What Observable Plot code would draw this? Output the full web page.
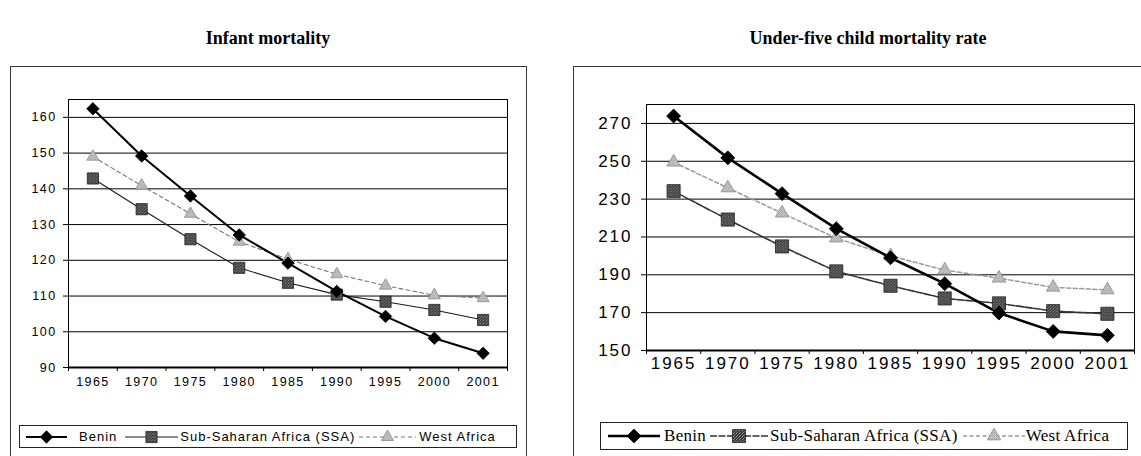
<!DOCTYPE html>
<html>
<head>
<meta charset="utf-8">
<script src="https://cdn.jsdelivr.net/npm/d3@7"></script>
<script src="https://cdn.jsdelivr.net/npm/@observablehq/plot@0.6"></script>
<style>
  body { margin: 0; background: #fff; }
  #page { position: relative; width: 1141px; height: 456px; overflow: hidden; background: #fff; }
  .chart { position: absolute; top: 0; }
  .panel { position: absolute; border: 1px solid #3a3a3a; pointer-events: none; }
  .title { position: absolute; top: 27px; line-height: 22px; transform: translateX(-50%); white-space: nowrap;
           font-family: "Liberation Serif", "Times New Roman", serif; font-weight: bold; font-size: 18px; color: #000; }
  .legend { position: absolute; box-sizing: border-box; border: 1px solid #222; display: flex; align-items: center; white-space: nowrap; color: #000; }
  .legend svg { display: block; flex: none; }
</style>
</head>
<body>
<div id="page"></div>
<svg width="0" height="0" style="position:absolute">
  <defs>
    <!-- speckled dark grey fill of the SSA squares -->
    <pattern id="ssaFill" width="3" height="3" patternUnits="userSpaceOnUse">
      <rect width="3" height="3" fill="#3a3a3a"/>
      <rect x="0" y="0" width="1" height="1" fill="#9a9a9a"/>
      <rect x="2" y="1" width="1" height="1" fill="#707070"/>
      <rect x="1" y="2" width="1" height="1" fill="#808080"/>
    </pattern>
    <!-- light grey stippled fill of the West Africa triangles -->
    <pattern id="waFill" width="2" height="2" patternUnits="userSpaceOnUse">
      <rect width="2" height="2" fill="#cfcfcf"/>
      <rect x="0" y="0" width="1" height="1" fill="#9c9c9c"/>
      <rect x="1" y="1" width="1" height="1" fill="#b0b0b0"/>
    </pattern>
  </defs>
</svg>
<script>
// Years on the category axis
const years = ["1965", "1970", "1975", "1980", "1985", "1990", "1995", "2000", "2001"];
const seriesNames = ["Benin", "Sub-Saharan Africa (SSA)", "West Africa"];

// Infant mortality (per 1,000 live births)
const infantBenin = [162.4, 149.2, 138, 127.1, 119.2, 111.3, 104.3, 98.2, 94];
const infantSSA   = [142.9, 134.3, 125.9, 117.9, 113.7, 110.4, 108.4, 106.1, 103.3];
const infantWest  = [149, 140.9, 133, 125.2, 120.3, 116.1, 112.9, 110.2, 109.4];
const infantTicks = [90, 100, 110, 120, 130, 140, 150, 160];

// Under-five child mortality rate (per 1,000)
const under5Benin = [273.9, 251.8, 232.9, 214.4, 199, 185.3, 169.8, 160.1, 158];
const under5SSA   = [234.2, 219.2, 205, 191.8, 184.2, 177.5, 174.9, 170.8, 169.4];
const under5West  = [249.5, 235.9, 222.6, 209.4, 200, 192.5, 188.2, 183.4, 182];
const under5Ticks = [150, 170, 190, 210, 230, 250, 270];

const page = d3.select("#page");

// Per-series drawing styles for each panel (marker symbol, size, fills, line look)
function seriesStyles(big) {
  return [
    {symbol: "diamond2", r: big ? 6.3 : 5.6, fill: "#000", mstroke: "#000", line: "#000", lw: big ? 2.6 : 2, dash: null},
    {symbol: "square", r: big ? 7.4 : 6.3, fill: "url(#ssaFill)", mstroke: "#222", line: big ? "#333" : "#1a1a1a", lw: big ? 1.6 : 1.1, dash: big ? "7,1.5" : null},
    {symbol: "triangle", r: big ? 5 : 4.5, fill: "url(#waFill)", mstroke: "#8a8a8a", line: big ? "#999" : "#777", lw: big ? 1.5 : 1.1, dash: big ? "4,2.5" : "4,3"}
  ];
}

function mortalityChart({values, ticks, domain, width, margins, font, spacing, yPad, xPad, big}) {
  const styles = seriesStyles(big);
  const series = values.map((vals, s) => vals.map((v, i) => ({i, year: years[i], value: v, series: seriesNames[s]})));
  const px = d => d.i + 0.5;
  const marks = [
    Plot.gridY({ticks, stroke: "#000", strokeOpacity: 1, strokeWidth: 1}),
    Plot.frame({stroke: "#000", strokeWidth: 1}),
    Plot.ruleY([domain[0]], {stroke: "#000", strokeWidth: 2}),
    Plot.axisY({ticks, tickSize: 5, tickPadding: yPad, label: null}),
    Plot.axisX({ticks: d3.range(years.length + 1), tickSize: 4, tickFormat: () => "", label: null}),
    Plot.axisX({ticks: years.map((d, i) => i + 0.5), tickSize: 0, tickPadding: xPad, tickFormat: v => years[Math.floor(v)], label: null})
  ];
  // draw West Africa first, Benin last (on top)
  for (const s of [2, 1, 0]) {
    const st = styles[s];
    marks.push(Plot.line(series[s], {x: px, y: "value", stroke: st.line, strokeWidth: st.lw, strokeDasharray: st.dash}));
  }
  for (const s of [2, 1, 0]) {
    const st = styles[s];
    marks.push(Plot.dot(series[s], {x: px, y: "value", symbol: st.symbol, r: st.r, fill: st.fill, stroke: st.mstroke, strokeWidth: 0.8}));
  }
  return Plot.plot({
    width, height: 456,
    marginLeft: margins[0], marginRight: margins[1], marginTop: margins[2], marginBottom: margins[3],
    x: {type: "linear", domain: [0, years.length], label: null},
    y: {domain, label: null},
    style: {background: "none", fontFamily: '"Liberation Sans", Arial, sans-serif', fontSize: font, letterSpacing: spacing, color: "#000", overflow: "visible"},
    marks
  });
}

// Legend row: line + marker swatch, then the series name
function legend({left, top, width, height, font, family, spacing, big, layout}) {
  const styles = seriesStyles(big);
  const box = page.append("div").attr("class", "legend")
    .style("left", left + "px").style("top", top + "px")
    .style("width", width + "px").style("height", height + "px")
    .style("font-family", family).style("font-size", font).style("letter-spacing", spacing)
    .style("padding-left", layout.pad + "px");
  seriesNames.forEach((name, s) => {
    const st = styles[s];
    const [sw, gapBefore, gapAfter] = layout.items[s];
    const h = 18;
    const svg = box.append("svg").attr("width", sw).attr("height", h).style("margin-left", gapBefore + "px").style("margin-right", gapAfter + "px");
    svg.append("line").attr("x1", 0).attr("x2", sw).attr("y1", h / 2).attr("y2", h / 2)
      .attr("stroke", st.line).attr("stroke-width", st.lw).attr("stroke-dasharray", st.dash);
    const symbolType = {diamond2: d3.symbolDiamond2, square: d3.symbolSquare, triangle: d3.symbolTriangle}[st.symbol];
    svg.append("path").attr("d", d3.symbol(symbolType, Math.PI * st.r * st.r)())
      .attr("transform", `translate(${sw / 2},${h / 2})`)
      .attr("fill", st.fill).attr("stroke", st.mstroke).attr("stroke-width", 0.8);
    box.append("span").text(name);
  });
}

const left = mortalityChart({
  values: [infantBenin, infantSSA, infantWest], ticks: infantTicks, domain: [90, 165],
  width: 560, margins: [68, 53, 99, 89], font: "12.5px", spacing: "1.4px", yPad: 7, xPad: 9.5, big: false
});
left.classList.add("chart");
left.style.left = "0px";
page.node().appendChild(left);

const right = mortalityChart({
  values: [under5Benin, under5SSA, under5West], ticks: under5Ticks, domain: [150, 280],
  width: 581, margins: [86, 7, 104, 106], font: "17px", spacing: "2px", yPad: 9, xPad: 6, big: true
});
right.classList.add("chart");
right.style.left = "560px";
page.node().appendChild(right);

// Panel borders
page.append("div").attr("class", "panel").style("left", "10px").style("top", "66px").style("width", "515px").style("height", "420px");
page.append("div").attr("class", "panel").style("left", "573px").style("top", "66px").style("width", "600px").style("height", "420px");

// Titles
page.append("div").attr("class", "title").style("left", "268px").text("Infant mortality");
page.append("div").attr("class", "title").style("left", "868px").text("Under-five child mortality rate");

// Legends
legend({
  left: 19, top: 425, width: 498, height: 23, font: "13px", family: '"Liberation Sans", Arial, sans-serif', spacing: "1px", big: false,
  layout: {pad: 6, items: [[41, 0, 12], [53, 8, 2], [57, 4, 3]]}
});
legend({
  left: 600, top: 422, width: 528, height: 28, font: "17px", family: '"Liberation Serif", "Times New Roman", serif', spacing: "0.3px", big: true,
  layout: {pad: 7, items: [[52, 0, 4], [58, 4, 2], [62, 5, 1]]}
});
</script>
</body>
</html>
